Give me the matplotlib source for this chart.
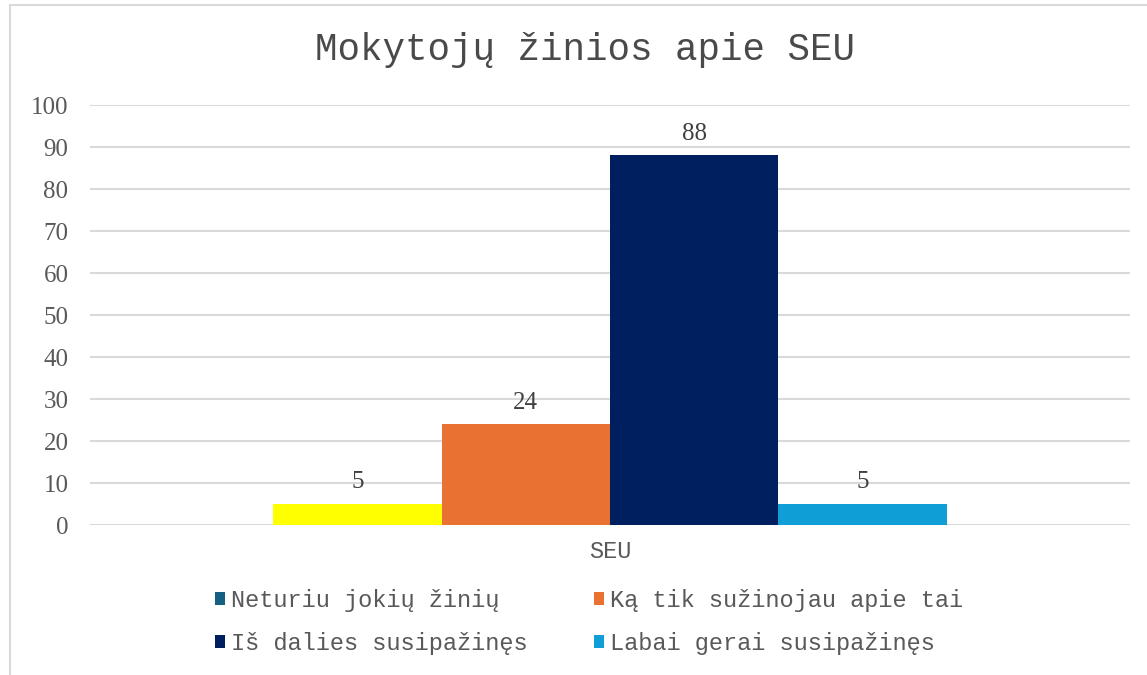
import matplotlib
matplotlib.use("Agg")
import matplotlib.pyplot as plt
from matplotlib.patches import Patch, Rectangle

title = "Mokytojų žinios apie SEU"
category = "SEU"
series = ["Neturiu jokių žinių", "Ką tik sužinojau apie tai",
          "Iš dalies susipažinęs", "Labai gerai susipažinęs"]
values = [5, 24, 88, 5]
bar_colors = ["#FFFF00", "#E97132", "#001F5F", "#0F9ED5"]
legend_colors = ["#156082", "#E97132", "#001F5F", "#0F9ED5"]
yticks = [0, 10, 20, 30, 40, 50, 60, 70, 80, 90, 100]

MONO = "Liberation Mono"
SERIF = "Liberation Serif"
GRAY = "#595959"

fig = plt.figure(figsize=(11.47, 6.75), dpi=100)
# outer chart frame (cut off at right/bottom like the reference)
fig.patches.append(Rectangle((10 / 1147, -0.05), 1.2, 1 - 5 / 675 + 0.05,
                             transform=fig.transFigure, fill=False,
                             edgecolor="#D9D9D9", lw=1.5))

ax = fig.add_axes([90 / 1147, 150 / 675, 1040 / 1147, 420 / 675])
w = 0.162
n = len(values)
for i, (v, c) in enumerate(zip(values, bar_colors)):
    x = (i - (n - 1) / 2) * w
    ax.bar(x, v, width=w, color=c, zorder=3)
    ax.text(x, v + 2.5, str(v), ha="center", va="bottom", fontsize=18,
            family=SERIF, color="#404040", zorder=4)

ax.set_xlim(-0.5, 0.5)
ax.set_ylim(0, 100)
ax.set_yticks(yticks)
ax.set_yticklabels([str(t) for t in yticks], family=SERIF, fontsize=18, color=GRAY)
ax.set_xticks([0])
ax.set_xticklabels([category], family=MONO, fontsize=17, color=GRAY)
ax.tick_params(axis="y", length=0, pad=15.5)
ax.tick_params(axis="x", length=0, pad=11)
ax.grid(axis="y", color="#D9D9D9", lw=1.5, zorder=0)
for s in ax.spines.values():
    s.set_visible(False)

fig.text(585 / 1147, 1 - 50 / 675, title, ha="center", va="center",
         family=MONO, fontsize=27, color="#4a4a4a")

handles = [Patch(facecolor=c, label=l) for c, l in zip(legend_colors, series)]
# legend order follows the reference: row by row
order = [0, 2, 1, 3]
fig.legend([handles[i] for i in order], [series[i] for i in order],
           loc="center", bbox_to_anchor=(589 / 1147, 1 - 622 / 675), ncol=2,
           frameon=False, prop={"family": MONO, "size": 17},
           labelcolor=GRAY, handlelength=0.42, handleheight=0.42,
           handletextpad=0.25, columnspacing=2.8, labelspacing=0.85)

fig.savefig("out.png", dpi=100)
